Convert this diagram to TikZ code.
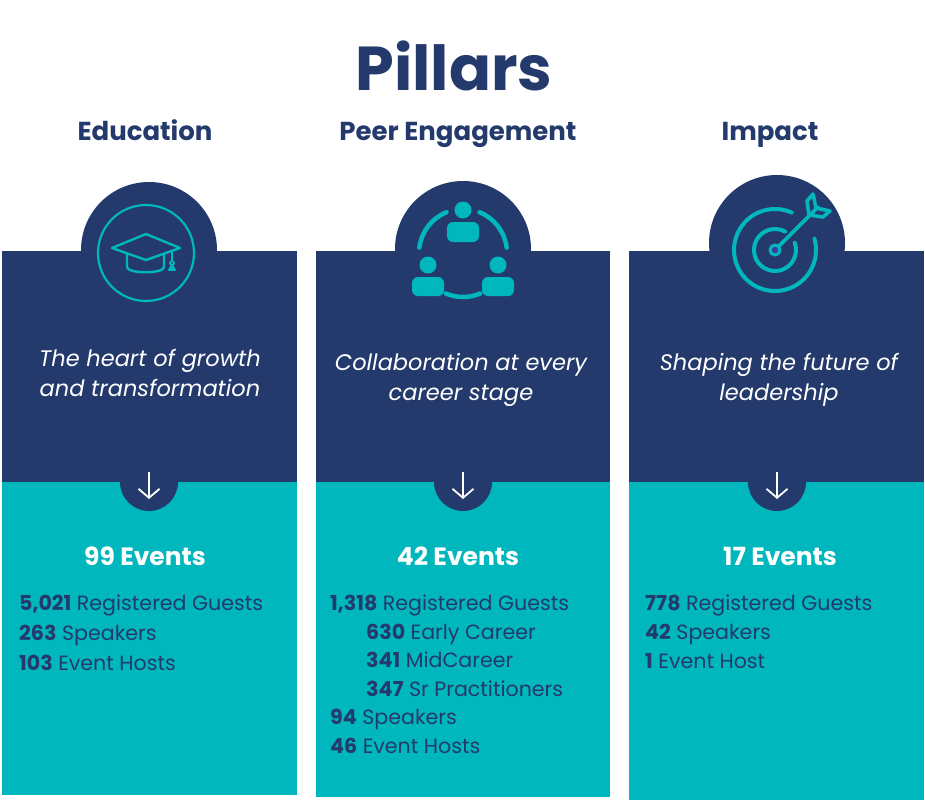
\documentclass[tikz,border=0pt]{standalone}
\usepackage{fontspec}
\setmainfont{Poppins}
\usepackage{tikz}
\usetikzlibrary{arrows.meta}
\definecolor{pillarnavy}{HTML}{243A6C}
\definecolor{pillarteal}{HTML}{00B7BD}
\definecolor{dotpurple}{HTML}{3C3C9E}
\def\fs#1{\fontsize{#1}{#1}\selectfont}
\tikzset{
	icon/.style={draw=pillarteal, line width=2.4pt, line cap=round, line join=round},
	head/.style={anchor=base, text=pillarnavy, font=\fs{26}\bfseries},
	tagline/.style={anchor=base, text=white, align=center, font=\fontsize{22.5}{30}\selectfont\itshape},
	events/.style={anchor=base, text=white, font=\fs{25}\bfseries},
	stat/.style={anchor=base west, inner sep=0pt, text=pillarnavy, font=\fs{20.6}},
	downarrow/.style={white, line width=1.8pt, -{Straight Barb[length=9pt, width=21pt]}},
}
\begin{document}
\begin{tikzpicture}[x=1pt, y=-1pt]
	%%%%% START %%%%%
	\useasboundingbox[fill=white] (0, 0) rectangle (925, 800);
	
	\node[anchor=base, text=pillarnavy, font=\fs{62}\bfseries] (title) at (454, 90) {Pillars};
	
	% pillar panels
	\fill[pillarnavy] (149, 250) circle (68);
	\fill[pillarnavy] (2, 251) rectangle (297, 482);
	\fill[pillarteal] (2, 482) rectangle (297, 795);
	\fill[pillarnavy] (149, 482) circle (29);
	
	\fill[pillarnavy] (463, 249) circle (68);
	\fill[pillarnavy] (316, 251) rectangle (610, 482);
	\fill[pillarteal] (316, 482) rectangle (610, 797);
	\fill[pillarnavy] (463, 482) circle (29);
	
	\fill[pillarnavy] (777, 243) circle (68);
	\fill[pillarnavy] (629, 251) rectangle (924, 482);
	\fill[pillarteal] (629, 482) rectangle (924, 800);
	\fill[pillarnavy] (777, 482) circle (29);
	
	% down arrows
	\draw[downarrow] (149, 472) -- (149, 499);
	\draw[downarrow] (463, 472) -- (463, 499);
	\draw[downarrow] (777, 472) -- (777, 499);
	
	% graduation cap
	\draw[icon, line width=2.2pt] (146, 253) circle (48);
	\draw[icon] (112, 248) -- (146, 234) -- (180, 248) -- (146, 260) -- cycle;
	\draw[icon] (127, 254) -- (127, 267) .. controls (127, 274) and (164, 274) .. (164, 267) -- (164, 254);
	\draw[icon] (172, 251) -- (172, 260);
	\draw[icon, line width=1.8pt] (172, 263) circle (2);
	\draw[icon, fill=pillarteal, line width=1.8pt] (172, 265) -- (169, 270) -- (175, 270) -- cycle;
	
	% peers in a ring
	\draw[icon, line width=4.5pt] ([shift={(-112:44)}]463, 253) arc (-112:-173:44);
	\draw[icon, line width=4.5pt] ([shift={(-7:44)}]463, 253) arc (-7:-68:44);
	\draw[icon, line width=4.5pt] ([shift={(-247:44)}]463, 253) arc (-247:-293:44);
	\fill[pillarteal] (463, 210) circle (8.5);
	\fill[pillarteal, rounded corners=6pt] (447, 222) rectangle (479, 242);
	\fill[pillarteal] (428, 265) circle (8.5);
	\fill[pillarteal, rounded corners=6pt] (412, 277) rectangle (444, 296);
	\fill[pillarteal] (498, 265) circle (8.5);
	\fill[pillarteal, rounded corners=6pt] (482, 277) rectangle (514, 296);
	
	% target
	\draw[icon, line width=4pt] ([shift={(-66:41)}]775, 250) arc (-66:-376:41);
	\draw[icon, line width=4pt] ([shift={(-61:21)}]775, 250) arc (-61:-380:21);
	\draw[icon, line width=3pt, fill=dotpurple] (775, 250) circle (5);
	\draw[icon, line width=3.6pt] (779, 246) -- (818, 207);
	\draw[icon, line width=3.6pt] (809, 215) -- (807, 201) (809, 215) -- (823, 217);
	\draw[icon, line width=3.6pt] (816, 208) -- (813, 194) (816, 208) -- (830, 211);
	\draw[icon, line width=3.6pt] (807, 201) -- (813, 194) (823, 217) -- (830, 211);
	
	% headings and taglines
	\node[head] (eduhead) at (145, 140) {Education};
	\node[head] (peerhead) at (458, 140) {Peer Engagement};
	\node[head] (impacthead) at (770, 140) {Impact};
	
	\node[tagline] (edutag) at (150, 396) {The heart of growth\\and transformation};
	\node[tagline] (peertag) at (461, 400) {Collaboration at every\\career stage};
	\node[tagline] (impacttag) at (779, 400) {Shaping the future of\\leadership};
	
	% counts
	\node[events] (eduevents) at (145, 565) {99 Events};
	\node[events] (peerevents) at (458, 565) {42 Events};
	\node[events] (impactevents) at (780, 565) {17 Events};
	
	\node[stat] (eduguests) at (19, 610) {\textbf{5,021} Registered Guests};
	\node[stat] (eduspeakers) at (19, 640) {\textbf{263} Speakers};
	\node[stat] (eduhosts) at (19, 670) {\textbf{103} Event Hosts};
	
	\node[stat] (peerguests) at (330, 610) {\textbf{1,318} Registered Guests};
	\node[stat] (peerearly) at (366, 639) {\textbf{630} Early Career};
	\node[stat] (peermid) at (366, 667) {\textbf{341} MidCareer};
	\node[stat] (peersenior) at (366, 696) {\textbf{347} Sr Practitioners};
	\node[stat] (peerspeakers) at (330, 724) {\textbf{94} Speakers};
	\node[stat] (peerhosts) at (330, 753) {\textbf{46} Event Hosts};
	
	\node[stat] (impactguests) at (645, 610) {\textbf{778} Registered Guests};
	\node[stat] (impactspeakers) at (645, 639) {\textbf{42} Speakers};
	\node[stat] (impacthosts) at (645, 668) {\textbf{1} Event Host};
	
	%%%%% END %%%%%
\end{tikzpicture}
\end{document}
